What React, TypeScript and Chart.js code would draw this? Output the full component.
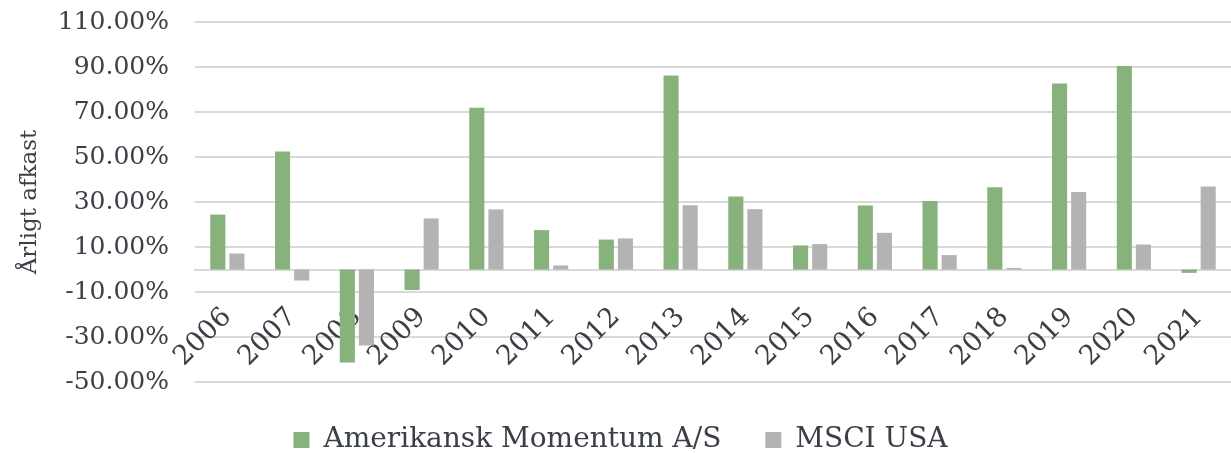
import React, { useEffect, useRef } from "react";
import { Chart, registerables } from "chart.js";

Chart.register(...registerables);

const years = ["2006", "2007", "2008", "2009", "2010", "2011", "2012", "2013", "2014", "2015", "2016", "2017", "2018", "2019", "2020", "2021"];
const momentum = [24.4, 52.4, -41.3, -9.1, 71.9, 17.5, 13.3, 86.2, 32.4, 10.7, 28.4, 30.5, 36.6, 82.7, 90.5, -1.5];
const msciUsa = [7.1, -4.9, -33.8, 22.7, 26.7, 1.8, 13.8, 28.6, 26.8, 11.3, 16.3, 6.4, 0.7, 34.5, 11.1, 36.9];

const FONT = "'DejaVu Serif', serif";
const TEXT = "#3b4047";

export default function App() {
  const ref = useRef<HTMLCanvasElement | null>(null);
  useEffect(() => {
    document.body.style.margin = "0";
    const chart = new Chart(ref.current!, {
      type: "bar",
      data: {
        labels: years,
        datasets: [
          { label: "Amerikansk Momentum A/S", data: momentum, backgroundColor: "#88b27c", categoryPercentage: 0.59, barPercentage: 0.79 },
          { label: "MSCI USA", data: msciUsa, backgroundColor: "#b3b3b3", categoryPercentage: 0.59, barPercentage: 0.79 },
        ],
      },
      options: {
        animation: false,
        responsive: true,
        maintainAspectRatio: false,
        layout: { padding: { top: 22, right: 0, left: 10, bottom: 0 } },
        plugins: {
          tooltip: { enabled: false },
          legend: {
            position: "bottom",
            maxHeight: 71,
            labels: {
              boxWidth: 16,
              boxHeight: 16,
              padding: 44,
              color: TEXT,
              font: { family: FONT, size: 28 },
            },
          },
        },
        scales: {
          x: {
            position: { y: 0 } as any,
            afterFit: (s: any) => {
              s.paddingLeft = 0;
              s.paddingRight = 0;
            },
            grid: { display: false },
            border: { color: "#d9d9d9", width: 2 },
            ticks: {
              color: TEXT,
              font: { family: FONT, size: 27 },
              minRotation: 45,
              maxRotation: 45,
              padding: 24,
            },
          },
          y: {
            min: -50,
            max: 110,
            afterFit: (s: any) => {
              s.width = 185;
              s.paddingTop = 0;
              s.paddingBottom = 0;
            },
            ticks: {
              stepSize: 20,
              color: TEXT,
              font: { family: FONT, size: 25 },
              padding: 26,
              callback: (v: any) => Number(v).toFixed(2) + "%",
            },
            grid: { color: "#d9d9d9", lineWidth: 2, drawTicks: false },
            border: { display: false },
            title: {
              display: true,
              text: "Årligt afkast",
              color: TEXT,
              font: { family: FONT, size: 23 },
              padding: { top: 6, bottom: 8 },
            },
          },
        },
      },
    });
    return () => chart.destroy();
  }, []);
  return (
    <div style={{ position: "relative", width: 1231, height: 453 }}>
      <canvas ref={ref} />
    </div>
  );
}
